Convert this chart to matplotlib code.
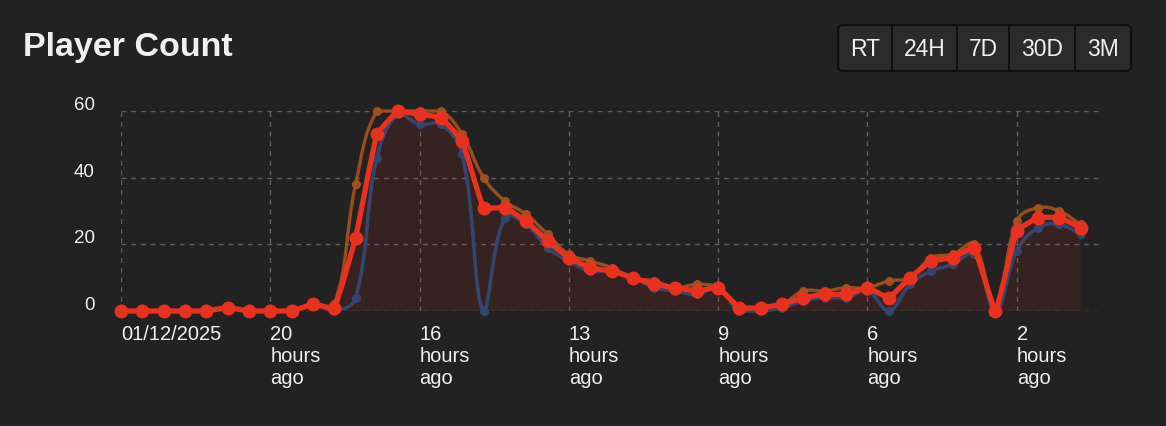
import matplotlib
matplotlib.use("Agg")
import matplotlib.pyplot as plt
import numpy as np
from matplotlib.path import Path
from matplotlib.patches import PathPatch, FancyBboxPatch, Rectangle
from matplotlib.transforms import Affine2D, ScaledTranslation

# values, one point per slot (oldest first)
red_counts = [0, 0, 0, 0, 0, 1, 0, 0, 0, 2, 1, 22, 53, 60, 59, 58, 51, 31, 31, 27, 21, 16, 13,
              12, 10, 8, 7, 6, 7, 1, 1, 2, 4, 5, 5, 7, 4, 10, 15, 16, 19, 0, 24, 28, 28, 25]
orange_counts = [0, 0, 0, 0, 0, 1, 0, 0, 0, 2, 2, 38, 60, 60, 60, 60, 53, 40, 33, 29, 23, 17, 15,
                 13, 10, 9, 7, 8, 7, 1, 1, 2, 6, 6, 7, 7, 9, 10, 16, 17, 20, 0, 27, 31, 30, 26]
blue_counts = [0, 0, 0, 0, 0, 1, 0, 0, 0, 2, 0, 4, 46, 59, 56, 56, 47, 0, 28, 26, 19, 15, 12,
               12, 10, 7, 6, 5, 7, 0, 0, 1, 3, 4, 4, 6, 0, 8, 12, 14, 17, 0, 18, 25, 26, 23]
tick_pos = [0, 7, 14, 21, 28, 35, 42]
tick_labels = ["01/12/2025", "20\nhours\nago", "16\nhours\nago", "13\nhours\nago",
               "9\nhours\nago", "6\nhours\nago", "2\nhours\nago"]
y_ticks = [0, 20, 40, 60]
buttons = ["RT", "24H", "7D", "30D", "3M"]

BG = "#222222"
W, H = 1166, 426
plt.rcParams['font.family'] = ['Liberation Sans', 'DejaVu Sans']

fig = plt.figure(figsize=(W / 100, H / 100), dpi=100, facecolor=BG)
# pixel coords, origin top-left
px = Affine2D().scale(1 / 100., -1 / 100.).translate(0, H / 100.) + fig.dpi_scale_trans

ax = fig.add_axes([121 / W, 1 - 311 / H, (1102 - 121) / W, 200 / H])
ax.set_facecolor(BG)
ymax = 60
xmax = 46
ax.set_xlim(0, xmax)
ax.set_ylim(0, ymax)
for s in ax.spines.values():
    s.set_visible(False)

# pixel scale of one unit, used for the spline like chart.js does
sx = 981 / xmax
sy = 200 / ymax


def spline_path(vals, t, close=False):
    x = np.arange(len(vals), dtype=float)
    y = np.array(vals, dtype=float)
    n = len(x)
    cp_prev = np.zeros((n, 2))
    cp_next = np.zeros((n, 2))
    for i in range(n):
        p0 = i - 1 if i > 0 else i
        p2 = i + 1 if i < n - 1 else i
        d01 = np.hypot((x[i] - x[p0]) * sx, (y[i] - y[p0]) * sy)
        d12 = np.hypot((x[p2] - x[i]) * sx, (y[p2] - y[i]) * sy)
        tot = d01 + d12
        s01 = d01 / tot if tot else 0
        s12 = d12 / tot if tot else 0
        dx = x[p2] - x[p0]
        dy = y[p2] - y[p0]
        cp_prev[i] = [x[i] - t * s01 * dx, y[i] - t * s01 * dy]
        cp_next[i] = [x[i] + t * s12 * dx, y[i] + t * s12 * dy]
    cp_prev[:, 1] = np.clip(cp_prev[:, 1], 0, ymax)
    cp_next[:, 1] = np.clip(cp_next[:, 1], 0, ymax)
    verts = [(x[0], y[0])]
    codes = [Path.MOVETO]
    for i in range(n - 1):
        verts += [tuple(cp_next[i]), tuple(cp_prev[i + 1]), (x[i + 1], y[i + 1])]
        codes += [Path.CURVE4] * 3
    if close:
        verts += [(x[-1], 0), (x[0], 0), (x[0], y[0])]
        codes += [Path.LINETO, Path.LINETO, Path.CLOSEPOLY]
    return Path(verts, codes)


# grid
for yv in y_ticks:
    ax.axhline(yv, color="#5f5f5f", lw=1, ls=(0, (3.5, 3.5)), zorder=1)
for xv in tick_pos:
    ax.axvline(xv, color="#5f5f5f", lw=1, ls=(0, (3.5, 3.5)), zorder=1)

ax.add_patch(PathPatch(spline_path(red_counts, 0.1, close=True), facecolor="#e8321f",
                       alpha=0.1, edgecolor="none", zorder=2))

xs = np.arange(len(red_counts))
ax.add_patch(PathPatch(spline_path(orange_counts, 0.4), facecolor="none", edgecolor="#a9511f",
                       lw=2.4, alpha=0.9, zorder=3, clip_on=False))
ax.plot(xs, orange_counts, "o", color="#a9511f", ms=5.5, alpha=0.9, zorder=3, clip_on=False)
ax.add_patch(PathPatch(spline_path(blue_counts, 0.4), facecolor="none", edgecolor="#34466e",
                       lw=2.6, zorder=4, clip_on=False))
ax.plot(xs, blue_counts, "o", color="#34466e", ms=5.5, zorder=4, clip_on=False)
ax.add_patch(PathPatch(spline_path(red_counts, 0.1), facecolor="none", edgecolor="#e8321f",
                       lw=3.8, zorder=5, clip_on=False, capstyle="round", joinstyle="round"))
ax.plot(xs, red_counts, "o", color="#e8321f", ms=9, zorder=5, clip_on=False)

ax.set_xticks(tick_pos, tick_labels, ha="left", fontsize=14.5, color="#f0f0f0", linespacing=1.2)
ax.set_yticks(y_ticks, [str(v) for v in y_ticks], fontsize=13.5, color="#f0f0f0")
ax.tick_params(axis="both", length=0)
ax.tick_params(axis="x", pad=10)
ax.tick_params(axis="y", pad=19)
for lab in ax.get_yticklabels():
    lab.set_transform(lab.get_transform() + ScaledTranslation(0, 7.5 / 100, fig.dpi_scale_trans))
for lab in ax.get_xticklabels():
    lab.set_transform(lab.get_transform() + ScaledTranslation(0, 0, fig.dpi_scale_trans))

fig.text(23, 56, "Player Count", transform=px, fontsize=24.5, fontweight="bold",
         color="#f0f0f0", va="baseline", ha="left")

# range buttons
edges = [838, 892, 957, 1009, 1075, 1131]
fig.patches.append(FancyBboxPatch((edges[0], 25), edges[-1] - edges[0], 46,
                                  boxstyle="round,pad=0,rounding_size=5", transform=px,
                                  facecolor="#2b2b2b", edgecolor="#0f0f0f", lw=1.6))
for i, name in enumerate(buttons):
    if i > 0:
        fig.patches.append(Rectangle((edges[i] - 0.8, 26), 1.6, 44, transform=px,
                                     facecolor="#0f0f0f", edgecolor="none"))
    fig.text((edges[i] + edges[i + 1]) / 2, 56.5, name, transform=px, fontsize=16.5,
             color="#f0f0f0", ha="center", va="baseline")

fig.savefig("out.png", dpi=100, facecolor=BG)
